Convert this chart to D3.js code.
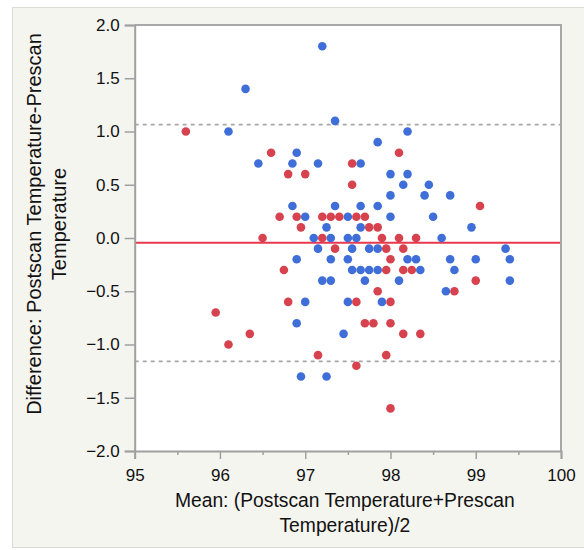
<!DOCTYPE html>
<html>
<head>
<meta charset="utf-8">
<script src="https://cdn.jsdelivr.net/npm/d3@7"></script>
<style>
  html, body { margin: 0; padding: 0; background: #ffffff; }
  svg { display: block; font-family: "Liberation Sans", Arial, sans-serif; }
</style>
</head>
<body>
<svg id="chart" width="584" height="550"></svg>
<script>
// Bland–Altman style agreement plot: difference vs. mean of two temperature readings.

// Group A (blue markers): mean of the two readings and their difference
const groupAMean = [97.2, 96.3, 97.35, 96.1, 98.2, 97.85, 96.9, 96.45, 96.85, 97.15, 97.65,
  98.0, 98.2, 98.15, 98.45, 98.0, 98.4, 98.7, 96.85, 97.35, 97.65, 97.85,
  97.0, 97.5, 98.0, 98.5, 97.25, 97.65, 98.95, 97.1, 97.3, 97.5, 97.6, 98.6,
  97.15, 97.55, 97.75, 97.85, 99.35, 96.9, 97.3, 97.5, 98.2, 98.3, 98.7, 99.0, 99.4,
  97.55, 97.65, 97.75, 97.85, 98.35, 98.75, 97.2, 97.3, 97.7, 98.1, 99.4,
  98.65, 97.0, 97.5, 97.9, 96.9, 97.45, 96.95, 97.25];
const groupADiff = [1.8, 1.4, 1.1, 1.0, 1.0, 0.9, 0.8, 0.7, 0.7, 0.7, 0.7,
  0.6, 0.6, 0.5, 0.5, 0.4, 0.4, 0.4, 0.3, 0.3, 0.3, 0.3,
  0.2, 0.2, 0.2, 0.2, 0.1, 0.1, 0.1, 0.0, 0.0, 0.0, 0.0, 0.0,
  -0.1, -0.1, -0.1, -0.1, -0.1, -0.2, -0.2, -0.2, -0.2, -0.2, -0.2, -0.2, -0.2,
  -0.3, -0.3, -0.3, -0.3, -0.3, -0.3, -0.4, -0.4, -0.4, -0.4, -0.4,
  -0.5, -0.6, -0.6, -0.6, -0.8, -0.9, -1.3, -1.3];

// Group B (red markers)
const groupBMean = [95.6, 96.6, 98.1, 97.55, 96.8, 97.0, 97.55, 99.05,
  96.7, 96.9, 97.2, 97.3, 97.4, 97.6, 97.7, 96.95, 97.75, 97.85,
  96.5, 97.2, 97.9, 98.1, 98.3, 97.35, 97.95, 98.15, 98.0,
  96.75, 97.95, 98.15, 98.25, 99.0, 97.85, 98.75, 96.8, 97.6, 98.0,
  95.95, 97.7, 97.8, 98.0, 96.35, 98.15, 98.35, 96.1, 97.15, 97.95, 97.6, 98.0];
const groupBDiff = [1.0, 0.8, 0.8, 0.7, 0.6, 0.6, 0.5, 0.3,
  0.2, 0.2, 0.2, 0.2, 0.2, 0.2, 0.2, 0.1, 0.1, 0.1,
  0.0, 0.0, 0.0, 0.0, 0.0, -0.1, -0.1, -0.1, -0.2,
  -0.3, -0.3, -0.3, -0.3, -0.4, -0.5, -0.5, -0.6, -0.6, -0.6,
  -0.7, -0.8, -0.8, -0.8, -0.9, -0.9, -0.9, -1.0, -1.1, -1.1, -1.2, -1.6];

// Mean difference and limits of agreement
const meanDifference = -0.045;
const upperLimit = 1.065;
const lowerLimit = -1.158;

// Axis ticks
const xTicks = [95, 96, 97, 98, 99, 100];
const xMinorTicks = [95.5, 96.5, 97.5, 98.5, 99.5];
const yTicks = [2.0, 1.5, 1.0, 0.5, 0.0, -0.5, -1.0, -1.5, -2.0];

const xTitle = ["Mean: (Postscan Temperature+Prescan", "Temperature)/2"];
const yTitle = ["Difference: Postscan Temperature-Prescan", "Temperature"];

const svg = d3.select("#chart");

// Outer panel
svg.append("rect")
  .attr("x", 12.5).attr("y", 7.5)
  .attr("width", 580).attr("height", 540)
  .attr("fill", "#f5f5f0")
  .attr("stroke", "#dcdcd6");

const plot = { left: 134.7, right: 561, top: 25, bottom: 451 };

const x = d3.scaleLinear().domain([95, 100]).range([plot.left, plot.right]);
const y = d3.scaleLinear().domain([-2, 2]).range([plot.bottom, plot.top]);

// Plot area
svg.append("rect")
  .attr("x", plot.left).attr("y", plot.top)
  .attr("width", plot.right - plot.left).attr("height", plot.bottom - plot.top)
  .attr("fill", "#ffffff");

// Limits of agreement (dashed) and mean difference (solid)
[upperLimit, lowerLimit].forEach(v => {
  svg.append("line")
    .attr("x1", plot.left).attr("x2", plot.right)
    .attr("y1", y(v)).attr("y2", y(v))
    .attr("stroke", "#a8a8a8")
    .attr("stroke-width", 1.6)
    .attr("stroke-dasharray", "4,4");
});
svg.append("line")
  .attr("x1", plot.left).attr("x2", plot.right)
  .attr("y1", y(meanDifference)).attr("y2", y(meanDifference))
  .attr("stroke", "#e8384f")
  .attr("stroke-width", 2);

// Markers
const groupA = groupAMean.map((m, i) => ({ m, d: groupADiff[i] }));
const groupB = groupBMean.map((m, i) => ({ m, d: groupBDiff[i] }));

svg.append("g").selectAll("circle").data(groupA).join("circle")
  .attr("cx", p => x(p.m)).attr("cy", p => y(p.d))
  .attr("r", 4.3)
  .attr("fill", "#3f6ed9");
svg.append("g").selectAll("circle").data(groupB).join("circle")
  .attr("cx", p => x(p.m)).attr("cy", p => y(p.d))
  .attr("r", 4.3)
  .attr("fill", "#d6434f");

// Frame (top and right)
svg.append("path")
  .attr("d", `M${plot.left},${plot.top}H${plot.right}V${plot.bottom}`)
  .attr("fill", "none")
  .attr("stroke", "#a8a8a8")
  .attr("stroke-width", 2);

// Y axis
const yAxis = svg.append("g")
  .attr("transform", `translate(${plot.left},0)`)
  .call(d3.axisLeft(y).tickValues(yTicks).tickSize(10).tickPadding(5)
    .tickFormat(d3.format(".1f")));
yAxis.select(".domain").attr("stroke", "#a0a0a0").attr("stroke-width", 2);
yAxis.selectAll(".tick line").attr("stroke", "#a0a0a0").attr("stroke-width", 1.5);
yAxis.selectAll(".tick text").attr("fill", "#111").style("font-size", "17px");

// X axis
const xAxis = svg.append("g")
  .attr("transform", `translate(0,${plot.bottom})`)
  .call(d3.axisBottom(x).tickValues(xTicks).tickSize(8).tickPadding(10)
    .tickFormat(d3.format("d")));
xAxis.select(".domain").attr("stroke", "#a0a0a0").attr("stroke-width", 2);
xAxis.selectAll(".tick line").attr("stroke", "#a0a0a0").attr("stroke-width", 1.5);
xAxis.selectAll(".tick text").attr("fill", "#111").style("font-size", "17px");

const xMinor = svg.append("g")
  .attr("transform", `translate(0,${plot.bottom})`)
  .call(d3.axisBottom(x).tickValues(xMinorTicks).tickSize(4).tickFormat(""));
xMinor.select(".domain").remove();
xMinor.selectAll(".tick line").attr("stroke", "#a0a0a0").attr("stroke-width", 1.5);

// Axis titles
const xTitleCenter = (plot.left + plot.right) / 2 - 3;
svg.append("text")
  .attr("text-anchor", "middle")
  .style("font-size", "19.3px").attr("fill", "#111")
  .selectAll("tspan").data(xTitle).join("tspan")
  .attr("x", xTitleCenter)
  .attr("y", (d, i) => 507 + i * 25)
  .text(d => d);

svg.append("text")
  .attr("text-anchor", "middle")
  .attr("transform", "translate(0,224) rotate(-90)")
  .style("font-size", "20px").attr("fill", "#111")
  .selectAll("tspan").data(yTitle).join("tspan")
  .attr("x", 0)
  .attr("y", (d, i) => 41 + i * 25)
  .text(d => d);
</script>
</body>
</html>
